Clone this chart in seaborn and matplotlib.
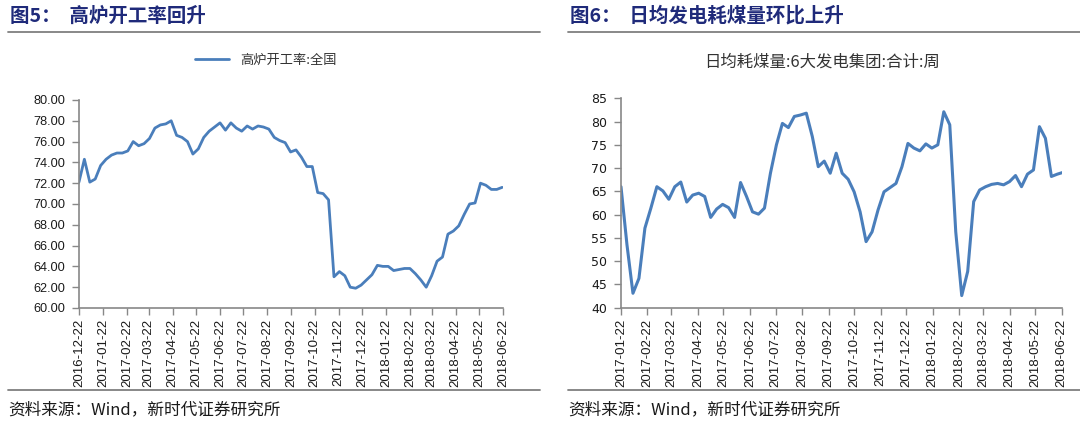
import numpy as np
import pandas as pd
import seaborn as sns
import matplotlib.pyplot as plt
from matplotlib.lines import Line2D

# Data Setting
# blast furnace operating rate, weekly from 2016-12-22
bf_start = '2016-12-22'
bf_rate = [72.1, 74.3, 72.1, 72.4, 73.7, 74.3, 74.7, 74.9, 74.9, 75.1,
           76.0, 75.6, 75.8, 76.3, 77.3, 77.6, 77.7, 78.0, 76.6, 76.4,
           76.0, 74.8, 75.3, 76.4, 77.0, 77.4, 77.8, 77.1, 77.8, 77.3,
           77.0, 77.5, 77.2, 77.5, 77.4, 77.2, 76.4, 76.1, 75.9, 75.0,
           75.2, 74.5, 73.6, 73.6, 71.1, 71.0, 70.4, 63.0, 63.5, 63.1,
           62.0, 61.9, 62.2, 62.7, 63.2, 64.1, 64.0, 64.0, 63.6, 63.7,
           63.8, 63.8, 63.3, 62.7, 62.0, 63.1, 64.5, 64.9, 67.1, 67.4,
           67.9, 69.0, 70.0, 70.1, 72.0, 71.8, 71.4, 71.4, 71.6]
bf_ticks = ['2016-12-22', '2017-01-22', '2017-02-22', '2017-03-22', '2017-04-22',
            '2017-05-22', '2017-06-22', '2017-07-22', '2017-08-22', '2017-09-22',
            '2017-10-22', '2017-11-22', '2017-12-22', '2018-01-22', '2018-02-22',
            '2018-03-22', '2018-04-22', '2018-05-22', '2018-06-22']
bf_label = '高炉开工率:全国'

# daily coal consumption of 6 power groups, weekly from 2017-01-22
coal_start = '2017-01-22'
coal_use = [66.0, 53.5, 43.1, 46.3, 57.1, 61.4, 66.0, 65.1, 63.3, 66.0,
            67.0, 62.7, 64.2, 64.6, 63.9, 59.4, 61.2, 62.2, 61.5, 59.4,
            66.9, 63.9, 60.6, 60.1, 61.4, 68.9, 75.0, 79.6, 78.7, 81.1,
            81.4, 81.8, 76.8, 70.3, 71.5, 68.9, 73.2, 68.9, 67.6, 64.9,
            60.6, 54.2, 56.3, 61.0, 64.9, 65.8, 66.7, 70.3, 75.3, 74.3,
            73.7, 75.2, 74.3, 75.0, 82.1, 79.3, 56.3, 42.6, 47.8, 62.8,
            65.3, 66.0, 66.5, 66.7, 66.4, 67.1, 68.4, 66.0, 68.7, 69.6,
            78.9, 76.4, 68.2, 68.7, 69.1]
coal_ticks = bf_ticks[1:]
coal_label = '日均耗煤量:6大发电集团:合计:周'

df_bf = pd.DataFrame({'date': pd.date_range(bf_start, periods=len(bf_rate), freq='7D'),
                      'value': bf_rate})
df_coal = pd.DataFrame({'date': pd.date_range(coal_start, periods=len(coal_use), freq='7D'),
                        'value': coal_use})

# Drawing
sns.set_style("white")
plt.rcParams['font.family'] = ['Noto Sans CJK SC', 'DejaVu Sans']
line_color = '#4A7EBB'
spine_color = '#888888'
navy = '#1F2A7A'

fig = plt.figure(figsize=(10.8, 4.24), dpi=100)
ax1 = fig.add_axes([0.0731, 0.2736, 0.3926, 0.4906])
ax2 = fig.add_axes([0.575, 0.2743, 0.408, 0.4939])

sns.lineplot(df_bf, x='date', y='value', ax=ax1, color=line_color, linewidth=2.0,
             label=bf_label)
sns.lineplot(df_coal, x='date', y='value', ax=ax2, color=line_color, linewidth=2.2,
             legend=False)

for ax, ticks in ((ax1, bf_ticks), (ax2, coal_ticks)):
    tick_dates = pd.to_datetime(ticks)
    ax.set_xticks(tick_dates)
    ax.set_xticklabels(ticks, rotation=90, family='Liberation Sans', fontsize=9.5,
                       color='#1a1a1a')
    ax.set_xlim(tick_dates[0], tick_dates[-1])
    ax.set_xlabel(None)
    ax.set_ylabel(None)
    ax.spines['top'].set_visible(False)
    ax.spines['right'].set_visible(False)
    for s in ('left', 'bottom'):
        ax.spines[s].set_color(spine_color)
        ax.spines[s].set_linewidth(1.2)
    ax.tick_params(axis='both', direction='out', length=5, width=1.0, color=spine_color,
                   bottom=True, left=True, pad=3)
    ax.tick_params(axis='y', pad=5)

ax1.set_ylim(60, 80)
ax1.set_yticks(np.arange(60, 80.1, 2))
ax1.set_yticklabels([f'{v:.2f}' for v in np.arange(60, 80.1, 2)], family='Liberation Sans',
                    fontsize=9.2, color='#1a1a1a')
ax2.set_ylim(40, 85)
ax2.set_yticks(np.arange(40, 85.1, 5))
ax2.set_yticklabels([f'{v:d}' for v in range(40, 86, 5)], family='DejaVu Sans',
                    fontsize=9, color='#1a1a1a')

leg = ax1.legend(loc='center', bbox_to_anchor=(0.246, 0.858), bbox_transform=fig.transFigure,
                 frameon=False, handlelength=2.6, fontsize=9.5, borderaxespad=0)
for t in leg.get_texts():
    t.set_color('#333333')

fig.text(822 / 1080, 1 - 62 / 424, coal_label, ha='center', va='center', fontsize=11.8,
         color='#333333')

# panel titles and rules
fig.text(10 / 1080, 1 - 16 / 424, '图5：  高炉开工率回升', ha='left', va='center',
         fontsize=14, fontweight='bold', color=navy)
fig.text(570 / 1080, 1 - 16 / 424, '图6：  日均发电耗煤量环比上升', ha='left', va='center',
         fontsize=14, fontweight='bold', color=navy)
for x0, x1 in ((8, 540), (568, 1080)):
    for y in (32, 390):
        fig.add_artist(Line2D([x0 / 1080, x1 / 1080], [1 - y / 424, 1 - y / 424],
                              transform=fig.transFigure, color='#7f7f7f', linewidth=1.3))
fig.text(8 / 1080, 1 - 410 / 424, '资料来源：Wind，新时代证券研究所', ha='left', va='center',
         fontsize=12, color='#1a1a1a')
fig.text(568 / 1080, 1 - 410 / 424, '资料来源：Wind，新时代证券研究所', ha='left', va='center',
         fontsize=12, color='#1a1a1a')

plt.savefig('out.png', dpi=100)
